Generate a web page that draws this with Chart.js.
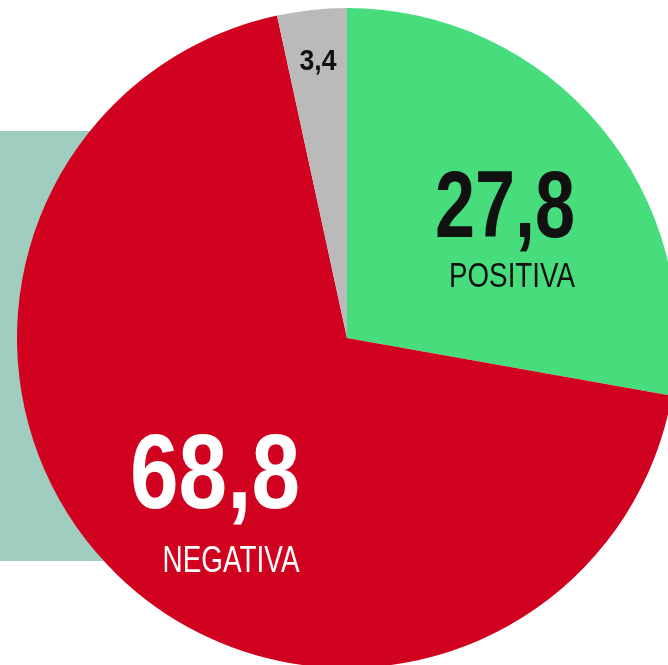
<!DOCTYPE html>
<html>
<head>
<meta charset="utf-8">
<script src="https://cdn.jsdelivr.net/npm/chart.js@4"></script>
<style>
  html, body { margin: 0; padding: 0; background: #fff; overflow: hidden; width: 668px; height: 665px; }
  #band { position: absolute; left: 0; top: 131px; width: 220px; height: 430px; background: #9fcdbf; }
  #pie { position: absolute; left: 17px; top: 8px; }
</style>
</head>
<body>
<div id="band"></div>
<canvas id="pie" width="660" height="660"></canvas>
<script>
const labels = ['POSITIVA', 'NEGATIVA', ''];
const values = [27.8, 68.8, 3.4];
const valueText = ['27,8', '68,8', '3,4'];
const colors = ['#47dd7d', '#d0021f', '#bababa'];

const font = '"Liberation Sans", Arial, sans-serif';

// text placement relative to pie centre; w = width the text is squeezed to (condensed look)
const valueSpots = [
  { dx: 158, dy: -101, size: 94, w: 140, color: '#111' },
  { dx: -132, dy: 170, size: 106, w: 170, color: '#fff' },
  { dx: -29, dy: -268, size: 30, w: 37, color: '#111' }
];
const nameSpots = [
  { dx: 165, dy: -51, size: 35, w: 126, color: '#111' },
  { dx: -116, dy: 234, size: 37, w: 137, color: '#fff' },
  null
];

function squeezed(ctx, text, x, y, w) {
  const real = ctx.measureText(text).width;
  const k = Math.min(1, w / real);
  ctx.save();
  ctx.translate(x, y);
  ctx.scale(k, 1);
  ctx.fillText(text, 0, 0);
  ctx.restore();
}

const labelPlugin = {
  id: 'labelPlugin',
  afterDatasetsDraw(chart) {
    const ctx = chart.ctx;
    const arc = chart.getDatasetMeta(0).data[0];
    const cx = arc.x, cy = arc.y;
    ctx.save();
    ctx.textAlign = 'center';
    ctx.textBaseline = 'alphabetic';
    valueSpots.forEach((s, i) => {
      ctx.fillStyle = s.color;
      ctx.font = 'bold ' + s.size + 'px ' + font;
      squeezed(ctx, valueText[i], cx + s.dx, cy + s.dy, s.w);
      const n = nameSpots[i];
      if (n) {
        ctx.fillStyle = n.color;
        ctx.font = n.size + 'px ' + font;
        squeezed(ctx, labels[i], cx + n.dx, cy + n.dy, n.w);
      }
    });
    ctx.restore();
  }
};

new Chart(document.getElementById('pie'), {
  type: 'pie',
  data: {
    labels: labels,
    datasets: [{
      data: values,
      backgroundColor: colors,
      borderWidth: 0
    }]
  },
  options: {
    responsive: false,
    animation: false,
    devicePixelRatio: 1,
    layout: { padding: 0 },
    plugins: {
      legend: { display: false },
      tooltip: { enabled: false }
    }
  },
  plugins: [labelPlugin]
});
</script>
</body>
</html>
